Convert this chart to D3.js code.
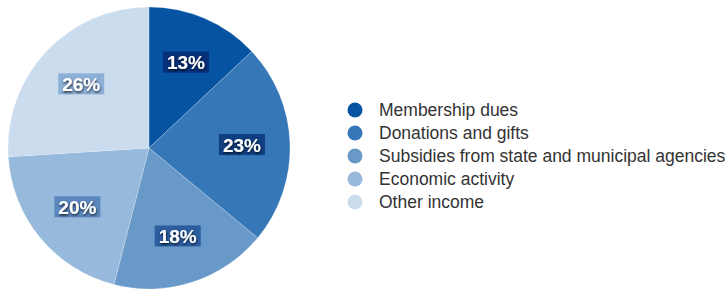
<!DOCTYPE html>
<html>
<head>
<meta charset="utf-8">
<script src="https://cdn.jsdelivr.net/npm/d3@7"></script>
<style>
  html, body { margin: 0; padding: 0; background: #fff; }
  svg { display: block; font-family: "Liberation Sans", Arial, Helvetica, sans-serif; }
</style>
</head>
<body>
<svg id="chart" width="726" height="289"></svg>
<script>
const categories = ["Membership dues", "Donations and gifts", "Subsidies from state and municipal agencies", "Economic activity", "Other income"];
const shares = [13, 23, 18, 20, 26];
const sliceColors = ["#0553a1", "#3577b7", "#6899c9", "#96b9dc", "#cadcee"];
const labelBoxColors = ["#06307a", "#0f3f80", "#2b5d9f", "#5a87bd", "#8db0d7"];

const svg = d3.select("#chart");
const cx = 149, cy = 148, radius = 141;

const pie = d3.pie().sort(null).value(d => d);
const arcs = pie(shares);
const arc = d3.arc().innerRadius(0).outerRadius(radius);
const labelArc = d3.arc().innerRadius(93).outerRadius(93);

const defs = svg.append("defs");
const shadow = defs.append("filter").attr("id", "txtshadow")
  .attr("x", "-20%").attr("y", "-20%").attr("width", "140%").attr("height", "160%");
shadow.append("feDropShadow")
  .attr("dx", 0.5).attr("dy", 1.5).attr("stdDeviation", 1)
  .attr("flood-color", "#000").attr("flood-opacity", 0.75);

const g = svg.append("g").attr("transform", `translate(${cx},${cy})`);

g.selectAll("path.slice")
  .data(arcs)
  .join("path")
  .attr("class", "slice")
  .attr("d", arc)
  .attr("fill", (d, i) => sliceColors[i])
  .attr("stroke", "rgba(255,255,255,0.35)")
  .attr("stroke-width", 0.6);

// percentage labels with dark boxes
const labels = g.selectAll("g.lbl")
  .data(arcs)
  .join("g")
  .attr("class", "lbl")
  .attr("transform", d => `translate(${labelArc.centroid(d)})`);

labels.append("rect")
  .attr("x", -23).attr("y", -11)
  .attr("width", 46).attr("height", 21)
  .attr("fill", (d, i) => labelBoxColors[i]);

labels.append("text")
  .attr("text-anchor", "middle")
  .attr("dy", "0.36em")
  .attr("font-size", 19)
  .attr("font-weight", "bold")
  .attr("fill", "#fff")
  .attr("filter", "url(#txtshadow)")
  .text(d => d.data + "%");

// legend
const y = d3.scaleBand().domain(categories).range([98.5, 213.5]).paddingInner(0).paddingOuter(0);
const legend = svg.append("g");
const rows = legend.selectAll("g")
  .data(categories)
  .join("g")
  .attr("transform", d => `translate(0,${y(d) + y.bandwidth() / 2})`);

rows.append("circle")
  .attr("cx", 355).attr("cy", 0).attr("r", 7.5)
  .attr("fill", (d, i) => sliceColors[i]);

rows.append("text")
  .attr("x", 379)
  .attr("dy", "0.35em")
  .attr("font-size", 17.5)
  .attr("fill", "#333")
  .text(d => d);
</script>
</body>
</html>
